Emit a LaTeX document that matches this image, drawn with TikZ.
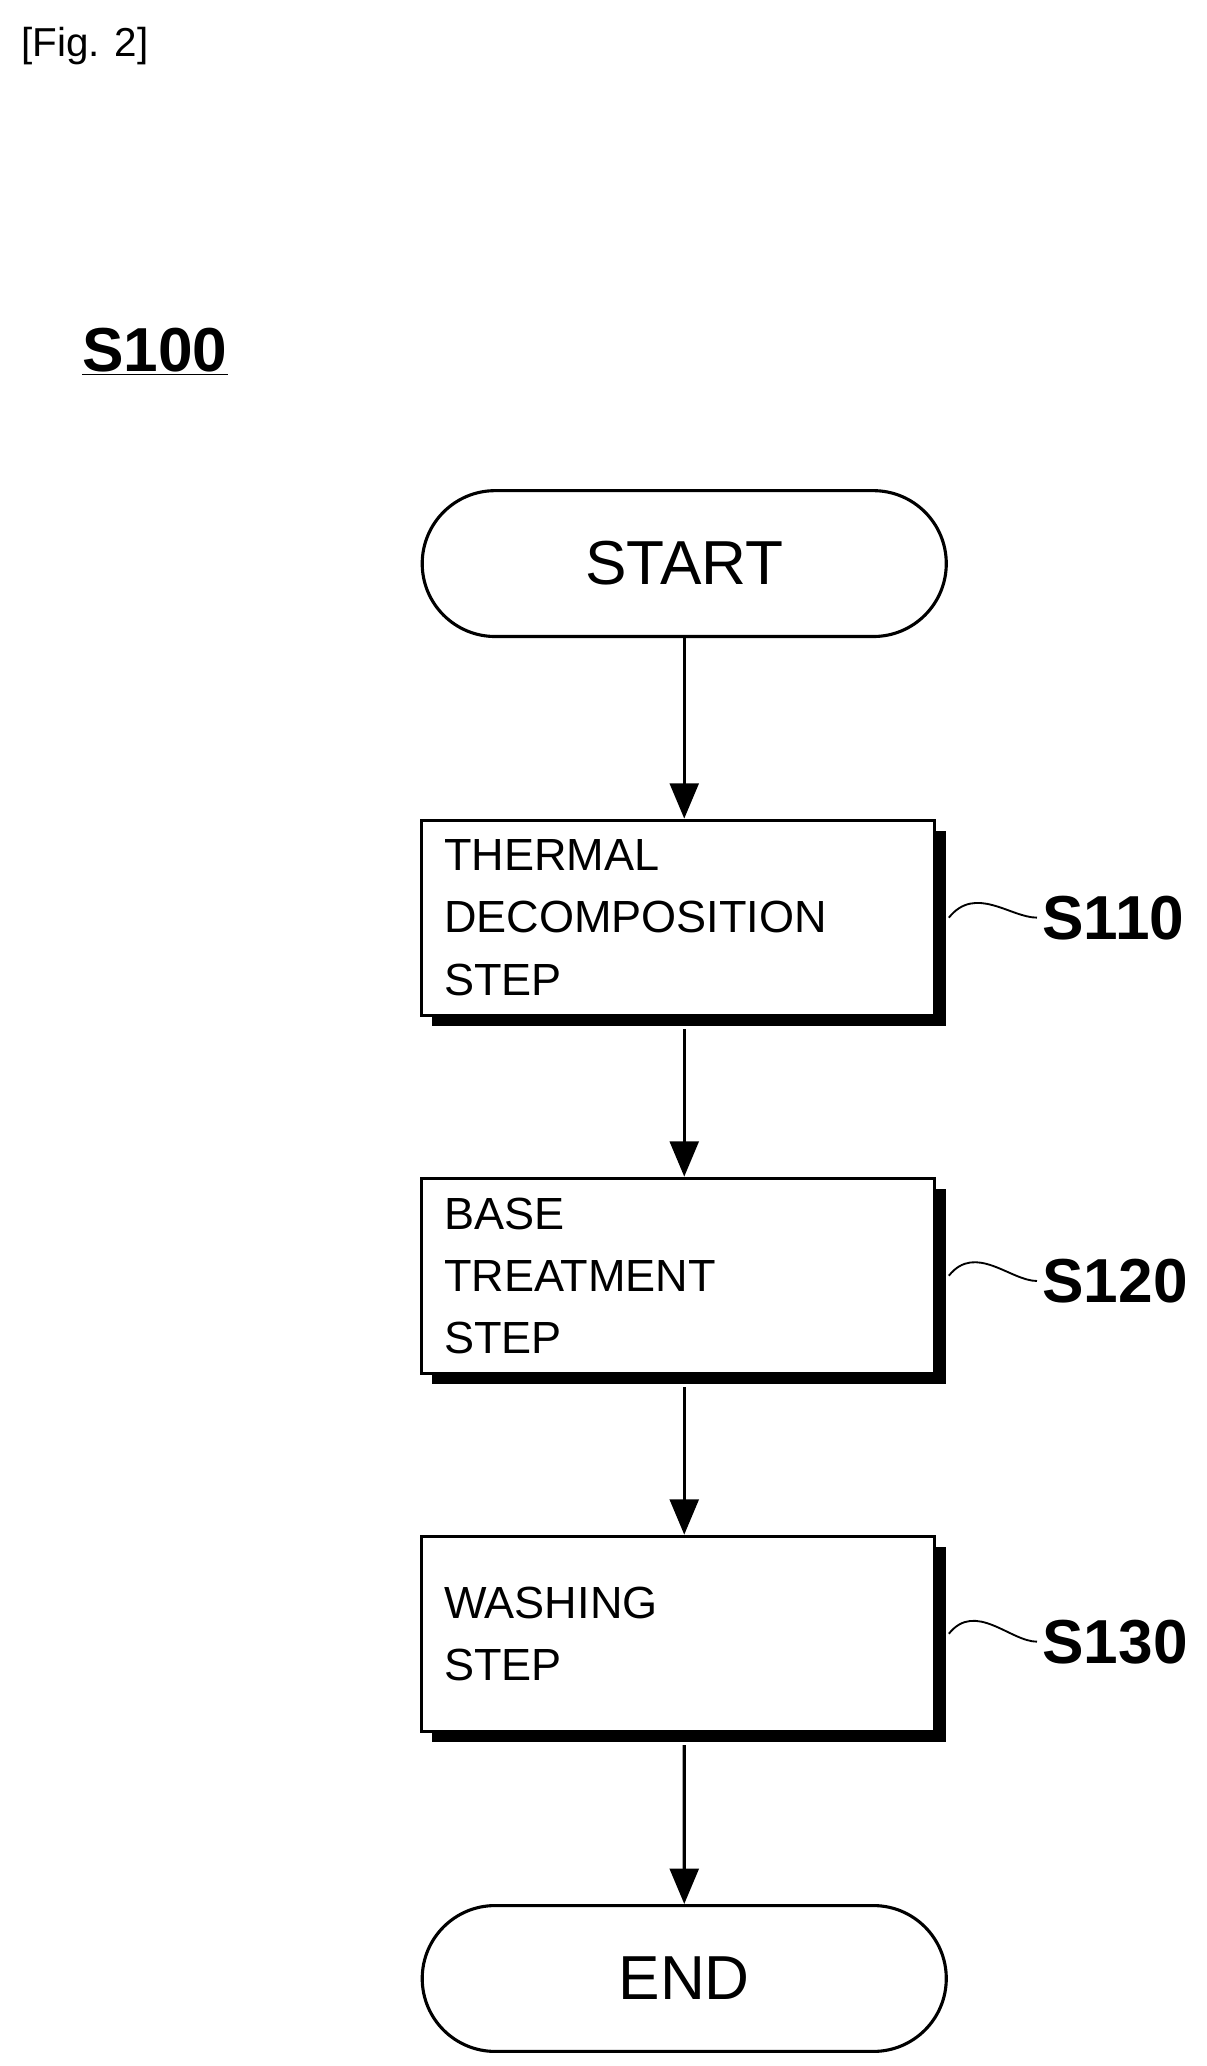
\documentclass[tikz,border=0pt]{standalone}
\usepackage{fontspec}
\setmainfont{Liberation Sans}
\usetikzlibrary{positioning,arrows.meta,shapes.misc}
\tikzset{
  term/.style={draw, line width=2pt, rounded rectangle, minimum width=12.09cm, minimum height=3.3cm, font=\fontsize{40}{44}\selectfont},
  procbox/.style={draw, line width=2pt, fill=white, minimum width=11.61cm, minimum height=4.41cm, font=\fontsize{29}{40}\selectfont, align=left, text width=10.6cm},
  shade/.style={fill=black, minimum width=11.61cm, minimum height=4.41cm},
  lbl/.style={font=\bfseries\fontsize{40}{44}\selectfont},
  flow/.style={-{Triangle[length=0.8cm,width=0.65cm]}, line width=2.2pt}
}
\begin{document}
\begin{tikzpicture}[x=0.03cm,y=-0.03cm]
\useasboundingbox (0,0) rectangle (910,1558);
\node[anchor=west, font=\fontsize{26}{30}\selectfont] (fig) at (12,35) {[Fig. 2]};
\node[lbl, anchor=west] (s100) at (58,265) {\underline{S100}};
% terminals
\node[term] (start) at (516,425) {START};
\node[term] (end) at (516,1492) {END};
% steps
\foreach \y in {692,962,1232}
  \node[shade] at (519.5,\y+8) {};
\node[procbox] (s110) at (511.5,692) {THERMAL\\DECOMPOSITION\\STEP};
\node[procbox] (s120) at (511.5,962) {BASE\\TREATMENT\\STEP};
\node[procbox] (s130) at (511.5,1232) {WASHING\\STEP};
% labels
\node[lbl, anchor=west] (l110) at (782,692) {S110};
\node[lbl, anchor=west] (l120) at (782,966) {S120};
\node[lbl, anchor=west] (l130) at (782,1238) {S130};
\foreach \s/\l in {s110/l110,s120/l120,s130/l130}
  \draw[line width=1.2pt] ([xshift=8pt]\s.east) .. controls +(20,-25) and +(-20,0) .. (\l.west);
% arrows
\draw[flow] (start.south) -- (start.south |- s110.north);
\draw[flow] ([yshift=-8pt]s110.south -| start) -- (start |- s120.north);
\draw[flow] ([yshift=-8pt]s120.south -| start) -- (start |- s130.north);
\draw[flow] ([yshift=-8pt]s130.south -| start) -- (end);
\end{tikzpicture}
\end{document}
